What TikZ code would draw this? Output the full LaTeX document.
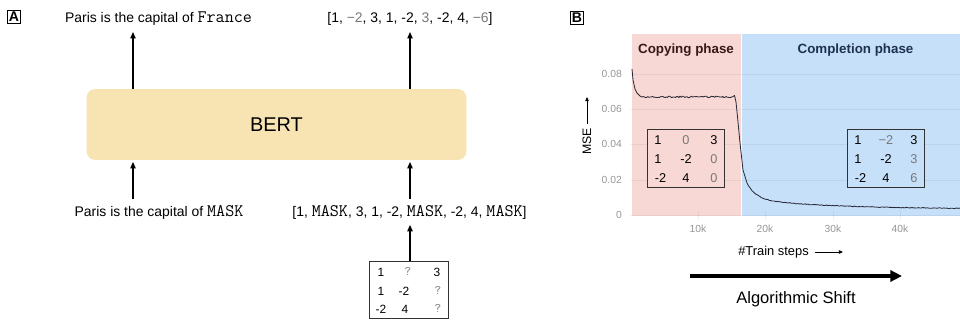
\documentclass[tikz,border=0pt]{standalone}
\usepackage{fontspec}
\setmainfont{Liberation Sans}
\usetikzlibrary{arrows.meta}

\definecolor{bertfill}{RGB}{248,228,178}
\definecolor{copyfill}{RGB}{248,216,212}
\definecolor{compfill}{RGB}{198,224,250}
\definecolor{ticktext}{RGB}{150,150,150}
\definecolor{predgray}{RGB}{120,120,120}
\definecolor{copytext}{RGB}{55,25,25}
\definecolor{comptext}{RGB}{30,50,80}
\definecolor{curvecol}{RGB}{40,40,55}
\definecolor{boxline}{RGB}{50,50,50}

% monospaced token and predicted (gray) entry
\newcommand\monotxt[1]{{\ttfamily\fontsize{15}{16}\selectfont #1}}
\newcommand\predg[1]{\textcolor{predgray}{#1}}
\newcommand\qmark{{\ttfamily\fontsize{11}{12}\selectfont\textcolor{predgray}{?}}}

\tikzset{
  panellabel/.style={draw, line width=0.8pt, inner sep=1.3pt,
    font=\bfseries\fontsize{12}{12}\selectfont},
  lbl/.style={font=\fontsize{11.9}{14}\selectfont, inner sep=0pt},
  arr/.style={-{Triangle[length=5.5pt,width=4.5pt]}, line width=1.1pt},
  thinarr/.style={-{Triangle[length=3.5pt,width=3pt]}, line width=0.7pt},
  bigarr/.style={-{Triangle[length=10pt,width=9.5pt]}, line width=2.8pt},
  matbox/.style={draw=boxline, line width=0.9pt, inner sep=0pt},
  entA/.style={font=\fontsize{10.2}{11}\selectfont, inner sep=0pt},
  entB/.style={font=\fontsize{10.9}{12}\selectfont, inner sep=0pt},
  ticklab/.style={font=\fontsize{8.8}{10}\selectfont, text=ticktext, inner sep=0pt},
  phase/.style={font=\bfseries\fontsize{11.4}{13}\selectfont, inner sep=0pt},
  grid/.style={black, opacity=0.06, line width=0.6pt},
  curve/.style={curvecol, line width=0.7pt, line join=round},
}

\begin{document}
\begin{tikzpicture}[x=0.03cm, y=-0.03cm]
\useasboundingbox (0,0) rectangle (960,320);

% ---------------- Panel A ----------------
\node[panellabel] (labA) at (14,17) {A};

\node[fill=bertfill, rounded corners=7pt, minimum width=324pt, minimum height=60.4pt,
      font=\fontsize{17}{20}\selectfont] (bert) at (276.5,124.5) {BERT};

\node[lbl, anchor=base] (outA) at (158.5,23) {Paris is the capital of \monotxt{France}};
\node[lbl, anchor=base] (outB) at (410,23)
  {[1, \predg{−2}, 3, 1, -2, \predg{3}, -2, 4, \predg{−6}]};

\node[lbl, anchor=base] (inA) at (159,217) {Paris is the capital of \monotxt{MASK}};
\node[lbl, anchor=base] (inB) at (409.5,217)
  {[1, \monotxt{MASK}, 3, 1, -2, \monotxt{MASK}, -2, 4, \monotxt{MASK}]};

\coordinate (colL) at (133,0);
\coordinate (colR) at (410,0);

\draw[arr, shorten >=5pt] (bert.north -| colL) -- (outA.south -| colL);
\draw[arr, shorten >=5pt] (bert.north -| colR) -- (outB.south -| colR);
\draw[arr, shorten <=6pt, shorten >=1.5pt] (inA.north -| colL) -- (bert.south -| colL);
\draw[arr, shorten <=6pt, shorten >=1.5pt] (inB.north -| colR) -- (bert.south -| colR);

% masked input grid
\node[matbox, minimum width=67.2pt, minimum height=49.3pt] (gridA) at (409,290) {};
\node[entA] (a11) at (381,272) {1};
\node[entA] (a12) at (408,272) {\qmark};
\node[entA] (a13) at (437,272) {3};
\node[entA] (a21) at (381,291) {1};
\node[entA] (a22) at (404,291) {-2};
\node[entA] (a23) at (438,291) {\qmark};
\node[entA] (a31) at (381,309) {-2};
\node[entA] (a32) at (405,309) {4};
\node[entA] (a33) at (438,309) {\qmark};
\draw[arr, shorten >=4pt] (gridA.north -| colR) -- (inB.south -| colR);

% ---------------- Panel B ----------------
\node[panellabel] (labB) at (577,18) {B};

\fill[copyfill] (632,34) rectangle (741,216);
\fill[compfill] (742,34) rectangle (960,216);

\foreach \yy in {74,109,144,180,215}
  \draw[grid] (630,\yy) -- (960,\yy);
\foreach \xx in {698,765,833,900}
  \draw[grid] (\xx,211) -- (\xx,220);

\node[ticklab, anchor=east] (t8) at (622,74) {0.08};
\node[ticklab, anchor=east] (t6) at (622,109) {0.06};
\node[ticklab, anchor=east] (t4) at (622,144) {0.04};
\node[ticklab, anchor=east] (t2) at (622,180) {0.02};
\node[ticklab, anchor=east] (t0) at (622,215) {0};
\node[ticklab] (x10) at (698,229) {10k};
\node[ticklab] (x20) at (765,229) {20k};
\node[ticklab] (x30) at (833,229) {30k};
\node[ticklab] (x40) at (900,229) {40k};

\node[phase, text=copytext] (copyT) at (686,50) {Copying phase};
\node[phase, text=comptext] (compT) at (855.5,50) {Completion phase};

% loss curve
\pgfmathsetseed{7}
\draw[curve] (632,69) -- (633,80) -- (635,89) -- (637,93) -- (640,96)
  -- plot[domain=642:733, samples=80] (\x,{96.9+0.75*rand})
  -- (734.5,95.5) -- (736,102) -- (738,122) -- (740,143) -- (743,170) -- (747,183)
  -- plot[domain=748:960, samples=160]
     (\x,{209-16*exp(-(\x-747)/9)-10*exp(-(\x-747)/80)+0.35*rand});

% axis labels
\node[font=\fontsize{10.5}{12}\selectfont, rotate=90, inner sep=0pt] (mse) at (587,141.5) {MSE};
\coordinate (mseTip) at (587,97);
\draw[thinarr, shorten <=3pt] (mse.east) -- (mseTip);

\node[font=\fontsize{11}{13}\selectfont, inner sep=0pt] (train) at (773.5,252) {\#Train steps};
\coordinate (trainTip) at (843,252);
\draw[thinarr, shorten <=5pt] (train.east) -- (trainTip);

% grid insets
\node[matbox, fill=copyfill, minimum width=66.3pt, minimum height=50.2pt] (gridL) at (686,158.5) {};
\node[entB] (l11) at (658,140) {1};
\node[entB] (l12) at (686,140) {\predg{0}};
\node[entB] (l13) at (714,140) {3};
\node[entB] (l21) at (658,159) {1};
\node[entB] (l22) at (686,159) {-2};
\node[entB] (l23) at (714,159) {\predg{0}};
\node[entB] (l31) at (660.5,178) {-2};
\node[entB] (l32) at (686,178) {4};
\node[entB] (l33) at (714,178) {\predg{0}};

\node[matbox, fill=compfill, minimum width=66.3pt, minimum height=50.2pt] (gridR) at (886,158.5) {};
\node[entB] (r11) at (858,140) {1};
\node[entB] (r12) at (886,140) {\predg{−2}};
\node[entB] (r13) at (914,140) {3};
\node[entB] (r21) at (858,159) {1};
\node[entB] (r22) at (886,159) {-2};
\node[entB] (r23) at (914,159) {\predg{3}};
\node[entB] (r31) at (860.5,178) {-2};
\node[entB] (r32) at (886,178) {4};
\node[entB] (r33) at (914,178) {\predg{6}};

% algorithmic shift
\coordinate (shiftS) at (690,276);
\coordinate (shiftE) at (902,276);
\draw[bigarr] (shiftS) -- (shiftE);
\node[font=\fontsize{14.1}{16}\selectfont, inner sep=0pt] (shiftT) at (796,299) {Algorithmic Shift};

\end{tikzpicture}
\end{document}
